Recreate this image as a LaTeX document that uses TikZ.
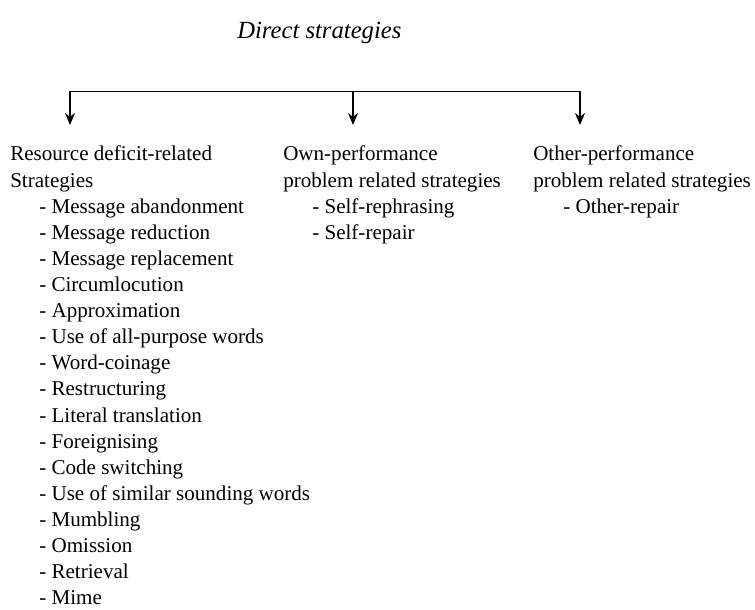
\documentclass[tikz,border=0pt]{standalone}
\usepackage{fontspec}
\setmainfont{Liberation Serif}
\usetikzlibrary{arrows.meta}
\begin{document}
\begin{tikzpicture}[x=0.75pt,y=-0.75pt,
  txt/.style={inner sep=0pt,anchor=base west,font=\fontsize{15.8}{19}\selectfont},
  ttl/.style={inner sep=0pt,anchor=base west,font=\fontsize{18.5}{22}\selectfont\itshape},
  branch/.style={line width=0.9pt},
  down/.style={line width=0.9pt,-{Stealth[length=9pt,width=7.5pt]}}]
\useasboundingbox (0,0) rectangle (755,609);
\fill[white] (0,0) rectangle (755,609);

% title
\node[ttl] (title) at (237,39) {Direct strategies};

% branching connector
\coordinate (b1) at (70,91.5);
\coordinate (b2) at (353,91.5);
\coordinate (b3) at (580,91.5);
\coordinate (e1) at (70,125);
\coordinate (e2) at (353,125);
\coordinate (e3) at (580,125);
\draw[branch] (b1) -- (b3);
\draw[down] (b1) -- (e1);
\draw[down] (b2) -- (e2);
\draw[down] (b3) -- (e3);

% resource deficit-related column
\node[txt] (rh1) at (10,161) {Resource deficit-related};
\node[txt] (rh2) at (10,187.1) {Strategies};
\foreach \t [count=\i] in {Message abandonment,Message reduction,Message replacement,
  Circumlocution,Approximation,Use of all-purpose words,Word-coinage,Restructuring,
  Literal translation,Foreignising,Code switching,Use of similar sounding words,
  Mumbling,Omission,Retrieval,Mime}
  \node[txt] (r\i) at (39,187.1+26.1*\i) {- \t};

% own-performance column
\node[txt] (oh1) at (283,161) {Own-performance};
\node[txt] (oh2) at (283,187.1) {problem related strategies};
\node[txt] (o1) at (312,213.2) {- Self-rephrasing};
\node[txt] (o2) at (312,239.3) {- Self-repair};

% other-performance column
\node[txt] (ph1) at (533,161) {Other-performance};
\node[txt] (ph2) at (533,187.1) {problem related strategies};
\node[txt] (p1) at (563,213.2) {- Other-repair};
\end{tikzpicture}
\end{document}
